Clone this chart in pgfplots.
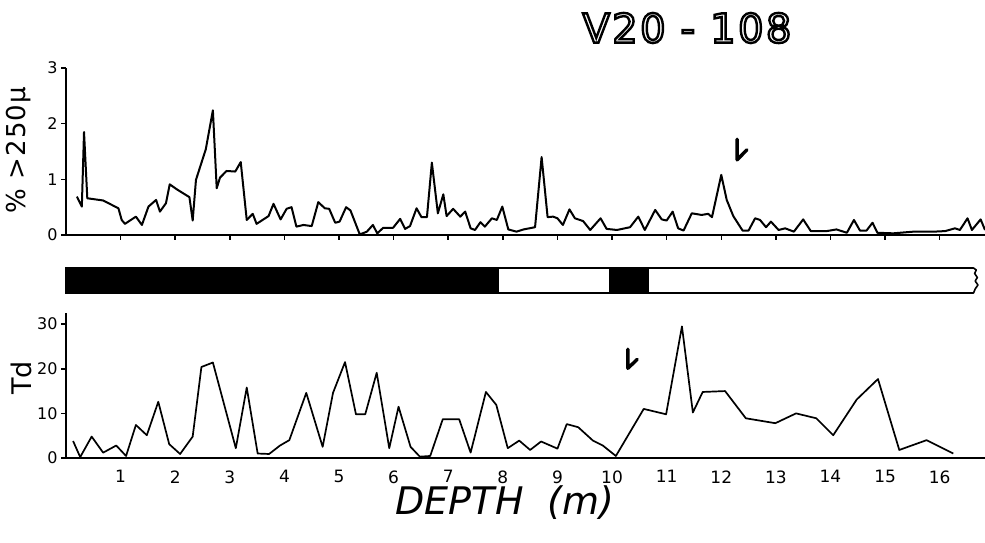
\documentclass[border=0pt]{standalone}
\usepackage{pgfplots}
\pgfplotsset{compat=1.18}
\usepackage{fontspec}
\setmainfont{DejaVu Sans}

\pgfplotsset{
  core/.style={
    scale only axis, width=919pt, xmin=0, xmax=16.83,
    axis x line=bottom, axis y line=left, axis line style={-, line width=1.8pt},
    tick style={black, line width=1.5pt},
    /pgf/number format/assume math mode=true,
    every tick label/.append style={font=\fontsize{16}{16}\selectfont},
    xtick={1,...,16}, ytick pos=left, xtick pos=bottom,
    tick align=outside,
  },
}

\begin{document}
\begin{tikzpicture}[x=1pt,y=1pt]
\useasboundingbox (0,0) rectangle (985,543);

% title, outlined letters
\node at (687,515) {\fontsize{40}{40}\selectfont\addfontfeatures{LetterSpace=6}%
  \special{pdf:literal direct 1 Tr 2.4 w}V20 - 108\special{pdf:literal direct 0 Tr}};

% coarse fraction
\begin{axis}[core, at={(66pt,308pt)}, anchor=south west, height=167pt,
  ymin=0, ymax=3, ytick={0,1,2,3}, xticklabels={},
  major tick length=5pt]
\addplot[black, line width=2pt, line join=round] coordinates {
(0.20,0.69) (0.29,0.51) (0.33,1.85) (0.39,0.66) (0.68,0.62) (0.96,0.48)
(1.02,0.27) (1.08,0.20) (1.28,0.33) (1.39,0.18) (1.51,0.51) (1.65,0.63)
(1.72,0.42) (1.83,0.57) (1.90,0.91) (2.03,0.82) (2.26,0.68) (2.32,0.26)
(2.38,0.99) (2.56,1.54) (2.69,2.24) (2.76,0.84) (2.82,1.03) (2.94,1.15)
(3.10,1.14) (3.20,1.31) (3.31,0.27) (3.42,0.38) (3.49,0.20) (3.71,0.34)
(3.80,0.56) (3.93,0.28) (4.04,0.47) (4.13,0.50) (4.22,0.15) (4.35,0.18)
(4.50,0.16) (4.62,0.59) (4.74,0.48) (4.82,0.47) (4.93,0.22) (5.01,0.24)
(5.13,0.50) (5.21,0.44) (5.38,0.01) (5.51,0.06) (5.62,0.18) (5.70,0.03)
(5.81,0.13) (5.99,0.13) (6.12,0.29) (6.21,0.11) (6.30,0.16) (6.42,0.48)
(6.51,0.32) (6.61,0.32) (6.70,1.30) (6.81,0.39) (6.91,0.73) (6.97,0.34)
(7.09,0.47) (7.22,0.33) (7.31,0.42) (7.41,0.12) (7.49,0.09) (7.59,0.23)
(7.67,0.15) (7.80,0.30) (7.89,0.27) (7.99,0.51) (8.10,0.10) (8.25,0.06)
(8.38,0.10) (8.59,0.14) (8.71,1.40) (8.82,0.32) (8.92,0.33) (9.00,0.30)
(9.10,0.18) (9.22,0.46) (9.32,0.30) (9.47,0.25) (9.60,0.09) (9.79,0.30)
(9.90,0.11) (10.09,0.09) (10.33,0.14) (10.48,0.33) (10.60,0.09) (10.79,0.45)
(10.91,0.28) (11.00,0.26) (11.11,0.42) (11.21,0.12) (11.31,0.08) (11.46,0.39)
(11.64,0.36) (11.76,0.38) (11.83,0.32) (12.00,1.08) (12.10,0.63) (12.22,0.34)
(12.39,0.08) (12.50,0.08) (12.62,0.30) (12.71,0.27) (12.82,0.14) (12.91,0.24)
(13.05,0.09) (13.17,0.12) (13.33,0.06) (13.50,0.28) (13.64,0.07) (13.93,0.07)
(14.11,0.10) (14.30,0.04) (14.43,0.27) (14.54,0.08) (14.66,0.08) (14.77,0.22)
(14.86,0.04) (15.15,0.03) (15.52,0.06) (15.89,0.06) (16.10,0.07) (16.28,0.12)
(16.37,0.09) (16.51,0.30) (16.59,0.09) (16.75,0.28) (16.83,0.09)
};
% marker arrow
\addplot[black, line width=3.4pt, line cap=round, line join=round] coordinates {
(12.29,1.72) (12.29,1.35) (12.47,1.53)};
\end{axis}

% polarity bar
\begin{axis}[scale only axis, width=919pt, height=25pt, at={(66pt,250pt)},
  anchor=south west, xmin=0, xmax=16.83, ymin=0, ymax=1, hide axis, clip=false]
\addplot[fill=black, draw=black, line width=1.4pt] coordinates {(0,1) (7.91,1)} \closedcycle;
\addplot[fill=black, draw=black, line width=1.4pt] coordinates {(9.95,1) (10.66,1)} \closedcycle;
\addplot[black, line width=1.6pt, line join=round] coordinates {
(7.91,1) (16.62,1) (16.67,0.92) (16.64,0.78) (16.69,0.62) (16.65,0.48)
(16.70,0.32) (16.65,0.16) (16.62,0) (7.91,0)};
\end{axis}

% Td
\begin{axis}[core, at={(66pt,85pt)}, anchor=south west, height=145pt,
  ymin=0, ymax=32.5, ytick={0,10,20,30},
  x tick label style={font=\fontsize{17}{17}\selectfont, yshift=-4pt},
  xtick={1,...,16},
  x tick style={draw=none}, major tick length=5pt]
\addplot[black, line width=1.7pt, line join=round] coordinates {
(0.13,3.8) (0.26,0.2) (0.47,4.8) (0.68,1.2) (0.92,2.8) (1.10,0.45)
(1.28,7.4) (1.48,5.1) (1.69,12.6) (1.89,3.1) (2.09,0.9) (2.32,4.8)
(2.48,20.4) (2.69,21.4) (3.11,2.2) (3.31,15.8) (3.51,1.0) (3.72,0.9)
(3.92,2.8) (4.09,4.0) (4.40,14.6) (4.70,2.5) (4.89,14.6) (5.11,21.5)
(5.31,9.8) (5.48,9.8) (5.69,19.1) (5.92,2.2) (6.09,11.5) (6.31,2.5)
(6.48,0.3) (6.67,0.45) (6.90,8.7) (7.20,8.7) (7.41,1.2) (7.69,14.8)
(7.88,11.9) (8.09,2.2) (8.30,3.9) (8.50,1.8) (8.70,3.7) (9.00,2.1)
(9.17,7.6) (9.38,6.9) (9.65,3.9) (9.83,2.8) (10.07,0.45) (10.58,11.0)
(10.99,9.8) (11.28,29.5) (11.48,10.2) (11.66,14.8) (12.07,15.0) (12.45,8.9)
(12.99,7.8) (13.37,10.0) (13.74,8.9) (14.05,5.1) (14.48,13.1) (14.87,17.7)
(15.26,1.8) (15.76,4.0) (16.25,1.0)
};
\addplot[black, line width=3.4pt, line cap=round, line join=round] coordinates {
(10.29,24.4) (10.29,20.1) (10.46,22.1)};
\end{axis}

% axis titles
\node[rotate=90] at (19,393) {\fontsize{26}{26}\selectfont\addfontfeatures{LetterSpace=4}\% >250μ};
\node[rotate=90] at (21,165) {\fontsize{27}{27}\selectfont Td};
\node at (505,40) {\fontsize{38}{38}\selectfont\itshape DEPTH~~(m)};
\end{tikzpicture}
\end{document}
